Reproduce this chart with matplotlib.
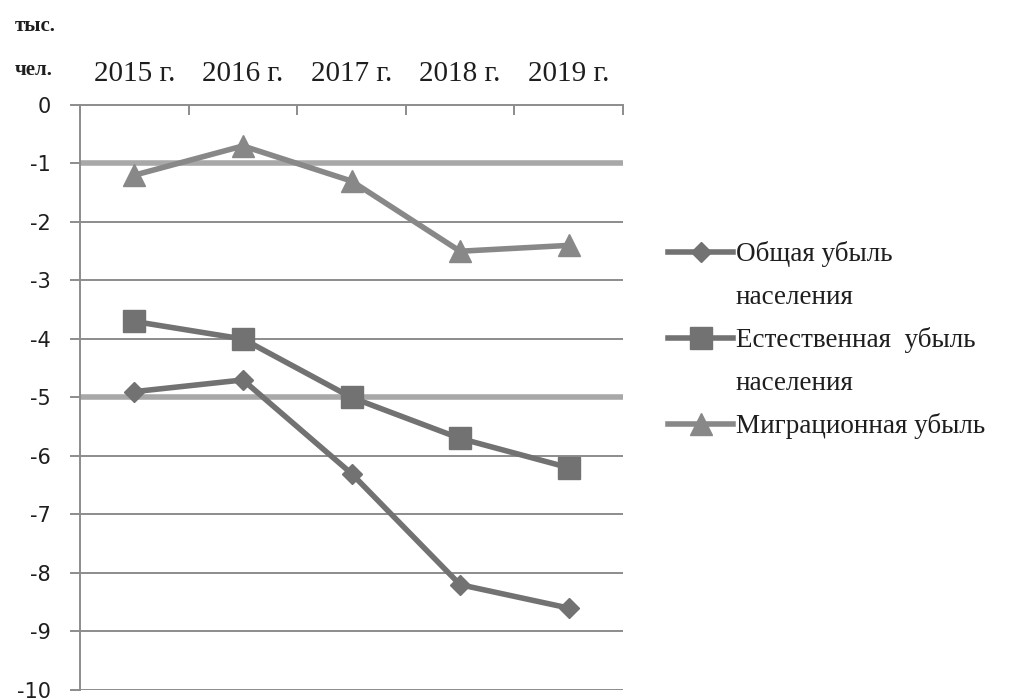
import matplotlib
matplotlib.use("Agg")
import matplotlib.pyplot as plt
from matplotlib.lines import Line2D

years = ["2015 г.", "2016 г.", "2017 г.", "2018 г.", "2019 г."]
total_loss = [-4.9, -4.7, -6.3, -8.2, -8.6]
natural_loss = [-3.7, -4.0, -5.0, -5.7, -6.2]
migration_loss = [-1.2, -0.7, -1.3, -2.5, -2.4]

series_labels = ["Общая убыль\nнаселения", "Естественная  убыль\nнаселения", "Миграционная убыль"]

line_color = "#727272"
grid_color = "#8c8c8c"
text_color = "#1e1e1e"
serif = "Liberation Serif"

fig = plt.figure(figsize=(10.22, 6.99), dpi=100)
ax = fig.add_axes([0.0783, 0.0129, 0.5313, 0.8369])

x = [i + 0.5 for i in range(len(years))]

l1, = ax.plot(x, total_loss, color=line_color, linewidth=4, marker="D", markersize=10,
              zorder=3)
l2, = ax.plot(x, natural_loss, color=line_color, linewidth=4, marker="s", markersize=16,
              zorder=3)
l3, = ax.plot(x, migration_loss, color="#888888", linewidth=4, marker="^", markersize=16,
              zorder=3)

ax.set_xlim(0, len(years))
ax.set_ylim(-10, 0)

# gridlines (-1 and -5 are thicker and lighter, like in the source)
for v in range(-10, 0):
    if v in (-1, -5):
        ax.axhline(v, color="#a8a8a8", linewidth=4, zorder=1)
    else:
        ax.axhline(v, color=grid_color, linewidth=1.4, zorder=1)

ax.xaxis.tick_top()
ax.set_xticks(x)
ax.set_xticklabels(years, fontsize=21, family=serif, color=text_color)
ax.set_xticks(range(len(years) + 1), minor=True)
ax.tick_params(axis="x", which="major", length=0, pad=13)
ax.tick_params(axis="x", which="minor", direction="in", length=7, width=1.4,
               color=grid_color, top=True, bottom=False)

ax.set_yticks(range(-10, 1))
ax.set_yticklabels([str(v) for v in range(-10, 1)], fontsize=15, color=text_color)
ax.tick_params(axis="y", length=7, width=1.4, color=grid_color, pad=14)

for side in ("right", "bottom"):
    ax.spines[side].set_visible(False)
for side in ("left", "top"):
    ax.spines[side].set_color(grid_color)
    ax.spines[side].set_linewidth(1.4)

fig.text(0.014, 0.955, "тыс.", fontsize=15, family=serif, color=text_color, weight="bold")
fig.text(0.014, 0.893, "чел.", fontsize=15, family=serif, color=text_color, weight="bold")

# legend: continuation lines get an empty handle so the marker sits on the first line
blank = Line2D([], [], linestyle="none")
handles, labels = [], []
for h, lab in zip([l1, l2, l3], series_labels):
    parts = lab.split("\n")
    handles.append(h)
    labels.append(parts[0])
    for p in parts[1:]:
        handles.append(blank)
        labels.append(p)

leg = fig.legend(handles, labels, loc="upper left", bbox_to_anchor=(0.630, 0.690),
                 frameon=False, handlelength=2.4, handletextpad=0.1,
                 labelspacing=0.65, prop={"family": serif, "size": 19.5})
for t in leg.get_texts():
    t.set_color(text_color)

fig.savefig("out.png", dpi=100)
